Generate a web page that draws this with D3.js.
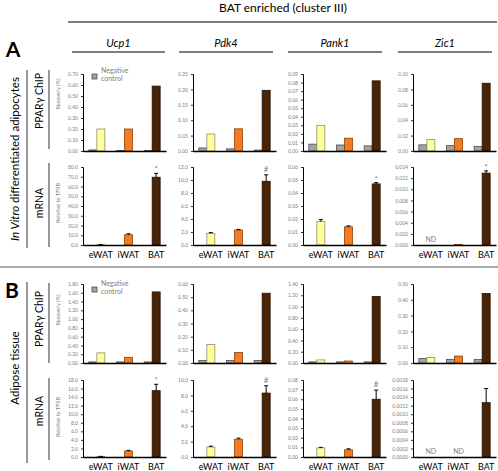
<!DOCTYPE html>
<html><head><meta charset="utf-8">
<script src="https://cdn.jsdelivr.net/npm/d3@7/dist/d3.min.js"></script>
<style>body{margin:0;background:#fff}svg{display:block}</style>
</head><body><svg id="c" width="498" height="471"></svg>
<script>
// ---------- data ----------
const genes = ["Ucp1", "Pdk4", "Pank1", "Zic1"];
const tissues = ["eWAT", "iWAT", "BAT"];
const seriesKeys = ["neg", "val"];

// Panel A - PPARγ ChIP (in vitro)
const chipA_neg = [[0.010, 0.005, 0.005], [0.010, 0.007, 0.003], [0.008, 0.007, 0.006], [0.008, 0.007, 0.006]];
const chipA_val = [[0.20, 0.20, 0.59], [0.055, 0.072, 0.197], [0.030, 0.015, 0.082], [0.015, 0.016, 0.088]];
const chipA_max = [0.70, 0.25, 0.09, 0.10];
const chipA_step = [0.10, 0.05, 0.01, 0.02];
const chipA_fmt = [".2f", ".2f", ".2f", ".2f"];

// Panel A - mRNA (in vitro)
const mrnaA_val = [[0.3, 10.5, 69.5], [1.8, 2.3, 9.8], [0.018, 0.014, 0.047], [null, 0.0001, 0.0129]];
const mrnaA_err = [[0.1, 1.0, 4.0], [0.1, 0.1, 1.0], [0.0015, 0.0007, 0.001], [0, 0, 0.0004]];
const mrnaA_sig = [["", "", "*"], ["", "", "#"], ["", "", "*"], ["ND", "", "*"]];
const mrnaA_max = [80, 12, 0.06, 0.014];
const mrnaA_step = [10, 2, 0.01, 0.002];
const mrnaA_fmt = [".1f", ".1f", ".2f", ".3f"];

// Panel B - PPARγ ChIP (adipose tissue)
const chipB_neg = [[0.025, 0.025, 0.025], [0.02, 0.02, 0.02], [0.02, 0.02, 0.02], [0.028, 0.023, 0.022]];
const chipB_val = [[0.23, 0.13, 1.62], [0.14, 0.08, 0.53], [0.055, 0.035, 1.18], [0.035, 0.044, 0.44]];
const chipB_max = [1.8, 0.6, 1.4, 0.5];
const chipB_step = [0.2, 0.1, 0.2, 0.1];
const chipB_fmt = [".2f", ".2f", ".2f", ".2f"];

// Panel B - mRNA (adipose tissue)
const mrnaB_val = [[0.1, 1.4, 15.5], [1.3, 2.3, 8.3], [0.0095, 0.0075, 0.060], [null, null, 0.00127]];
const mrnaB_err = [[0.05, 0.15, 1.5], [0.1, 0.15, 0.95], [0.0005, 0.001, 0.0095], [0, 0, 0.00033]];
const mrnaB_sig = [["", "", "*"], ["", "", "#"], ["", "", "#"], ["ND", "ND", ""]];
const mrnaB_max = [18, 10, 0.08, 0.0018];
const mrnaB_step = [2, 2, 0.01, 0.0002];
const mrnaB_fmt = [".1f", ".1f", ".2f", ".4f"];

// ---------- drawing ----------
const FONT = "Lato, 'Open Sans', sans-serif";
const svg = d3.select("#c");
const colX = [83, 193, 303, 413];
const plotW = 83;
const fills = { neg: "#a3a3a3", eWAT: "#ffff9c", iWAT: "#f47b20", BAT: "#4a2406" };
const strokes = { neg: "#4d4d4d", eWAT: "#8f8f6a", iWAT: "#8c4309", BAT: "#241002" };

const x0 = d3.scaleBand().domain(tissues).range([0, plotW]).paddingInner(0).paddingOuter(0);
const x1 = d3.scaleBand().domain(seriesKeys).range([-8, 8]);

function yAxis(g, y, max, step, fmt) {
  const ticks = d3.range(0, max + step / 2, step);
  const ax = g.append("g").call(d3.axisLeft(y).tickValues(ticks).tickFormat(d3.format(fmt)).tickSize(2).tickPadding(3));
  ax.select(".domain").attr("stroke", "#000").attr("stroke-width", 1);
  ax.selectAll(".tick line").attr("stroke", "#333");
  ax.selectAll("text").attr("font-family", FONT).attr("font-size", 5).attr("fill", "#808080");
}
function xAxis(g, bot, labels, labelY) {
  const ax = g.append("g").attr("transform", `translate(0,${bot})`)
    .call(d3.axisBottom(x0).tickSize(0).tickFormat(""));
  ax.select(".domain").attr("stroke", "#000").attr("stroke-width", 1.6);
  if (labels) {
    g.selectAll(".cat").data(tissues).enter().append("text")
      .attr("x", d => x0(d) + x0.bandwidth() / 2 + 4).attr("y", labelY)
      .attr("text-anchor", "middle").attr("font-family", FONT).attr("font-size", 9).attr("fill", "#000")
      .text(d => d);
  }
}

function chipPanel(ci, top, bot, neg, val, max, step, fmt, legend) {
  const g = svg.append("g").attr("transform", `translate(${colX[ci]},0)`);
  const y = d3.scaleLinear().domain([0, max]).range([bot, top]);
  const rowsData = [];
  tissues.forEach((t, i) => {
    rowsData.push({ t, key: "neg", v: neg[i] });
    rowsData.push({ t, key: "val", v: val[i] });
  });
  g.selectAll("rect.b").data(rowsData).enter().append("rect")
    .attr("x", d => x0(d.t) + x0.bandwidth() / 2 + x1(d.key))
    .attr("width", x1.bandwidth())
    .attr("y", d => y(d.v)).attr("height", d => y(0) - y(d.v))
    .attr("fill", d => d.key === "neg" ? fills.neg : fills[d.t])
    .attr("stroke", d => d.key === "neg" ? strokes.neg : strokes[d.t]).attr("stroke-width", 0.8);
  yAxis(g, y, max, step, fmt);
  xAxis(g, bot, false);
  if (legend != null) {
    g.append("rect").attr("x", 9).attr("y", top + legend).attr("width", 5).attr("height", 5)
      .attr("fill", fills.neg).attr("stroke", strokes.neg).attr("stroke-width", 0.8);
    g.append("text").attr("x", 18).attr("y", top + legend - 1).attr("font-family", FONT).attr("font-size", 7).attr("fill", "#808080").text("Negative");
    g.append("text").attr("x", 18).attr("y", top + legend + 7).attr("font-family", FONT).attr("font-size", 7).attr("fill", "#808080").text("control");
  }
}

function mrnaPanel(ci, top, bot, val, err, sig, max, step, fmt, labelY) {
  const g = svg.append("g").attr("transform", `translate(${colX[ci]},0)`);
  const y = d3.scaleLinear().domain([0, max]).range([bot, top]);
  const data = tissues.map((t, i) => ({ t, v: val[i], e: err[i], s: sig[i] }));
  const cx = d => x0(d.t) + x0.bandwidth() / 2 + x1("val");
  const bars = data.filter(d => d.v != null);
  g.selectAll("rect.b").data(bars).enter().append("rect")
    .attr("x", cx).attr("width", x1.bandwidth())
    .attr("y", d => y(d.v)).attr("height", d => y(0) - y(d.v))
    .attr("fill", d => fills[d.t]).attr("stroke", d => strokes[d.t]).attr("stroke-width", 0.8);
  const eb = bars.filter(d => d.e > 0);
  g.selectAll("line.e").data(eb).enter().append("line")
    .attr("x1", d => cx(d) + 4).attr("x2", d => cx(d) + 4)
    .attr("y1", d => y(d.v)).attr("y2", d => y(d.v + d.e)).attr("stroke", "#000").attr("stroke-width", 1);
  g.selectAll("line.c").data(eb).enter().append("line")
    .attr("x1", d => cx(d) + 2).attr("x2", d => cx(d) + 6)
    .attr("y1", d => y(d.v + d.e)).attr("y2", d => y(d.v + d.e)).attr("stroke", "#000").attr("stroke-width", 1);
  g.selectAll("text.s").data(data.filter(d => d.s)).enter().append("text")
    .attr("x", d => cx(d) + 4)
    .attr("y", d => d.s === "ND" ? bot - 3 : y(d.v + d.e) - (d.s === "*" ? 1 : 3))
    .attr("text-anchor", "middle").attr("font-family", FONT)
    .attr("font-size", d => d.s === "ND" ? 7 : 8).attr("fill", "#808080").text(d => d.s);
  yAxis(g, y, max, step, fmt);
  xAxis(g, bot, true, labelY);
}

genes.forEach((gname, ci) => {
  chipPanel(ci, 74, 151, chipA_neg[ci], chipA_val[ci], chipA_max[ci], chipA_step[ci], chipA_fmt[ci], ci === 0 ? 0 : null);
  mrnaPanel(ci, 167, 245, mrnaA_val[ci], mrnaA_err[ci], mrnaA_sig[ci], mrnaA_max[ci], mrnaA_step[ci], mrnaA_fmt[ci], 258);
  chipPanel(ci, 284, 363, chipB_neg[ci], chipB_val[ci], chipB_max[ci], chipB_step[ci], chipB_fmt[ci], ci === 0 ? 3 : null);
  mrnaPanel(ci, 380, 457, mrnaB_val[ci], mrnaB_err[ci], mrnaB_sig[ci], mrnaB_max[ci], mrnaB_step[ci], mrnaB_fmt[ci], 470);
});

// ---------- headers & annotations ----------
svg.append("text").attr("x", 283).attr("y", 12).attr("text-anchor", "middle")
  .attr("font-family", FONT).attr("font-size", 12).attr("fill", "#000").text("BAT enriched (cluster III)");
svg.append("line").attr("x1", 68).attr("x2", 497).attr("y1", 22).attr("y2", 22).attr("stroke", "#000").attr("stroke-width", 1.2);

const geneLines = [[72, 165], [179, 273], [288, 382], [398, 492]];
genes.forEach((gname, i) => {
  const [a, b] = geneLines[i];
  svg.append("text").attr("x", (a + b) / 2).attr("y", 47).attr("text-anchor", "middle")
    .attr("font-family", FONT).attr("font-style", "italic").attr("font-size", 11).attr("fill", "#000").text(gname);
  svg.append("line").attr("x1", a).attr("x2", b).attr("y1", 52).attr("y2", 52).attr("stroke", "#000").attr("stroke-width", 1.2);
});

svg.append("text").attr("x", 13).attr("y", 57).attr("text-anchor", "middle").attr("font-family", FONT)
  .attr("font-weight", "bold").attr("font-size", 21).attr("fill", "#000").text("A");
svg.append("text").attr("x", 12).attr("y", 298).attr("text-anchor", "middle").attr("font-family", FONT)
  .attr("font-weight", "bold").attr("font-size", 21).attr("fill", "#000").text("B");

function vline(x, y1, y2, c, w) {
  svg.append("line").attr("x1", x).attr("x2", x).attr("y1", y1).attr("y2", y2).attr("stroke", c || "#555").attr("stroke-width", w || 1.2);
}
function vtext(x, y, txt, size, color, italicPart) {
  const t = svg.append("text").attr("transform", `translate(${x},${y}) rotate(-90)`)
    .attr("text-anchor", "middle").attr("font-family", FONT).attr("font-size", size).attr("fill", color || "#000");
  if (italicPart) {
    t.append("tspan").attr("font-style", "italic").text(italicPart);
    t.append("tspan").text(txt);
  } else t.text(txt);
}

// big section lines
vline(27, 70, 248); vline(27, 282, 463);
vline(49, 70, 149); vline(49, 163, 247); vline(49, 283, 363); vline(49, 378, 460);
svg.append("line").attr("x1", 0).attr("x2", 498).attr("y1", 267).attr("y2", 267).attr("stroke", "#8c8c8c").attr("stroke-width", 1.6);

vtext(19, 159, " differentiated adipocytes", 11.5, "#000", "In Vitro");
vtext(19, 368, "Adipose tissue", 11.5, "#000");
vtext(43, 101, "PPARγ ChIP", 10.5);
vtext(43, 203, "mRNA", 10.5);
vtext(43, 319, "PPARγ ChIP", 10.5);
vtext(43, 411, "mRNA", 10.5);
vtext(60, 94, "Recovery (%)", 5.5, "#808080");
vtext(60, 203, "Relative to TFIIB", 5.5, "#808080");
vtext(60, 310, "Recovery (%)", 5.5, "#808080");
vtext(60, 417, "Relative to TFIIB", 5.5, "#808080");
</script></body></html>
